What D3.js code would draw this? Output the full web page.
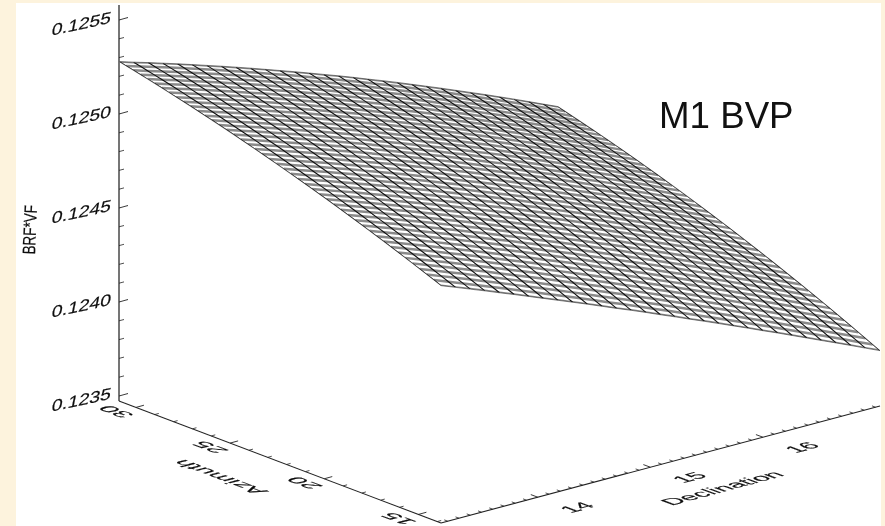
<!DOCTYPE html>
<html><head><meta charset="utf-8">
<script src="https://cdn.jsdelivr.net/npm/d3@7/dist/d3.min.js"></script>
<style>html,body{margin:0;padding:0;background:#fdf3dd}svg{display:block}text{font-family:"Liberation Sans",Arial,sans-serif;fill:#111}</style>
</head><body><svg id="c" width="885" height="526"></svg>
<script>
// Mesh coordinates
const azimuthGrid=[30.9,30.52,30.14,29.76,29.38,29,28.62,28.24,27.86,27.48,27.1,26.72,26.34,25.96,25.58,25.2,24.82,24.44,24.06,23.68,23.3,22.92,22.54,22.16,21.78,21.4,21.02,20.64,20.26,19.88,19.5,19.12,18.74,18.36,17.98,17.6,17.22,16.84,16.46,16.08,15.7,15.32,14.94,14.56,14.18,13.8];
const declinationGrid=[13.14,13.27,13.4,13.53,13.66,13.79,13.92,14.05,14.18,14.31,14.44,14.57,14.7,14.83,14.96,15.09,15.22,15.35,15.48,15.61,15.74,15.87,16,16.13,16.26,16.39,16.52,16.65,16.78,16.91,17.04];
// BRF*VF read along the surface edge at the largest azimuth, per declination line
const brfBack=[0.125279,0.125255,0.125232,0.125208,0.125184,0.125159,0.125134,0.125109,0.125083,0.125057,0.125030,0.125003,0.124976,0.124948,0.124920,0.124892,0.124863,0.124833,0.124804,0.124774,0.124743,0.124712,0.124681,0.124649,0.124617,0.124585,0.124552,0.124519,0.124485,0.124451,0.124417];
// BRF*VF read along the surface edge at the smallest azimuth, per declination line
const brfFront=[0.124736,0.124706,0.124676,0.124646,0.124615,0.124585,0.124554,0.124523,0.124492,0.124461,0.124430,0.124398,0.124366,0.124335,0.124303,0.124270,0.124238,0.124205,0.124173,0.124140,0.124107,0.124074,0.124040,0.124007,0.123973,0.123939,0.123905,0.123871,0.123837,0.123802,0.123768];
// Share of the back-to-front drop reached at each azimuth line, read along the left edge
const azimuthShare=[0,0.01605,0.03238,0.049,0.06589,0.08306,0.10051,0.11825,0.13626,0.15456,0.17314,0.19199,0.21113,0.23055,0.25025,0.27022,0.29048,0.31102,0.33184,0.35295,0.37432,0.39598,0.41792,0.44015,0.46265,0.48543,0.5085,0.53184,0.55547,0.57937,0.60356,0.62802,0.65277,0.67781,0.70312,0.72871,0.75458,0.78073,0.80716,0.83387,0.86087,0.88814,0.9157,0.94354,0.9716,1];
const zMajor=[0.1235,0.124,0.1245,0.125,0.1255];
const zMinor=[0.1236,0.1237,0.1238,0.1239,0.1241,0.1242,0.1243,0.1244,0.1246,0.1247,0.1248,0.1249,0.1251,0.1252,0.1253,0.1254];
const azMajor=[30,25,20,15];
const azMinor=[29,28,27,26,24,23,22,21,19,18,17,16,14];
const decMajor=[14,15,16];
const decMinor=[13.2,13.3,13.4,13.5,13.6,13.7,13.8,13.9,14.1,14.2,14.3,14.4,14.5,14.6,14.7,14.8,14.9,15.1,15.2,15.3,15.4,15.5,15.6,15.7,15.8,15.9,16.1,16.2,16.3,16.4,16.5,16.6,16.7,16.8,16.9,17];
const zTitle="BRF*VF", azTitle="Azimuth", decTitle="Declination", note="M1 BVP";

const svg=d3.select("#c");
svg.append("defs").append("filter").attr("id","soft").attr("x","-5%").attr("y","-5%").attr("width","110%").attr("height","110%")
  .append("feGaussianBlur").attr("stdDeviation",0.42);
svg.append("rect").attr("width",885).attr("height",526).attr("fill","#fdf3dd");
svg.append("rect").attr("x",16).attr("y",3).attr("width",865).attr("height",523).attr("fill","#fff");

// Oblique projection built from three linear scales
const azX=d3.scaleLinear([30.9,13.8],[119,441]), azY=d3.scaleLinear([30.9,13.8],[0,122]);
const decX=d3.scaleLinear([13.14,17.04],[0,439]), decY=d3.scaleLinear([13.14,17.04],[0,-117]);
const zY=d3.scaleLinear([0.1235,0.1255],[396,20]);
const floorY=401, dec0=13.14, azEnd=13.8;
const px=(a,d)=>azX(a)+decX(d);
const groundY=(a,d)=>floorY+azY(a)+decY(d);
const pt=(a,d,z)=>[px(a,d),zY(z)+azY(a)+decY(d)];
const brf=(i,j)=>brfBack[j]+(brfFront[j]-brfBack[j])*azimuthShare[i];
const P=(i,j)=>pt(azimuthGrid[i],declinationGrid[j],brf(i,j));
const line=d3.line();
const root=svg.append("g").attr("filter","url(#soft)");
const n=azimuthGrid.length,m=declinationGrid.length;

// surface
const outline=[...d3.range(m).map(j=>P(0,j)),...d3.range(n).map(i=>P(i,m-1)),...d3.range(m).map(j=>P(n-1,m-1-j)),...d3.range(n).map(i=>P(n-1-i,0))];
root.append("clipPath").attr("id","sheet").append("path").attr("d",line(outline)+"Z");
const g=root.append("g");
const inner=g.append("g").attr("clip-path","url(#sheet)");
inner.append("path").attr("d",line(outline)+"Z").attr("fill","#fff");
inner.selectAll(".r").data(d3.range(n)).join("path").attr("d",i=>line(d3.range(m).map(j=>P(i,j)))).attr("fill","none").attr("stroke","#8a8a8a").attr("stroke-width",2.5);
inner.selectAll(".c").data(d3.range(m)).join("path").attr("d",j=>line(d3.range(n).map(i=>P(i,j)))).attr("fill","none").attr("stroke","#111").attr("stroke-width",1.1);
g.append("path").attr("d",line(outline)+"Z").attr("fill","none").attr("stroke","#333").attr("stroke-width",0.6);

// axes
const ax=root.append("g").attr("fill","none");
const seg=(x1,y1,x2,y2,w,c)=>ax.append("line").attr("x1",x1).attr("y1",y1).attr("x2",x2).attr("y2",y2).attr("stroke",c||"#222").attr("stroke-width",w);
seg(119,5,119,401,1.8,"#666");
seg(119,401,441,523,1.1);
seg(441,523,880,406,1.1);
zMajor.forEach(z=>seg(119,zY(z),128,zY(z)-2.5,0.9));
zMinor.forEach(z=>seg(119,zY(z),124,zY(z)-1.3,0.8));
const azGround=a=>[px(a,dec0),groundY(a,dec0)];
azMajor.forEach(a=>{const p=azGround(a);seg(p[0],p[1],p[0]+8,p[1]-2.2,0.9)});
azMinor.forEach(a=>{const p=azGround(a);seg(p[0],p[1],p[0]+4,p[1]-1.1,0.8)});
const decGround=d=>[px(azEnd,d),groundY(azEnd,d)];
decMajor.forEach(d=>{const p=decGround(d);seg(p[0],p[1],p[0]-7,p[1]-2.6,0.9)});
decMinor.forEach(d=>{const p=decGround(d);seg(p[0],p[1],p[0]-3.5,p[1]-1.3,0.8)});

// text
const T=root.append("g").attr("stroke","#111").attr("stroke-width",0.12);
const txt=(s,m,size,anchor)=>T.append("text").attr("transform",`matrix(${m.join(",")})`).attr("font-size",size).attr("text-anchor",anchor||"middle").text(s);
const zFmt=d3.format(".4f");
zMajor.forEach(z=>txt(zFmt(z),[1.76,-0.38,-0.3,1.5,110,zY(z)+3],11,"end"));
const azBasis=[-2.15,-0.81,1.7,-0.45];
azMajor.forEach(a=>{const p=azGround(a);txt(String(a),[...azBasis,p[0]-13.5,p[1]+2.5],11)});
txt(azTitle,[...azBasis,226.5,475.5],11);
const decBasis=[2.1,-0.56,1.7,0.64];
decMajor.forEach(d=>{const p=decGround(d);txt(String(d),[...decBasis,p[0]+45.5,p[1]+12.5],11)});
txt(decTitle,[...decBasis,728.5,490.5],11);
txt(zTitle,[0.05,-1.12,1.5,0.05,36,230],12);
svg.append("text").attr("x",659).attr("y",127.5).attr("font-size",36.7).text(note);
</script></body></html>
